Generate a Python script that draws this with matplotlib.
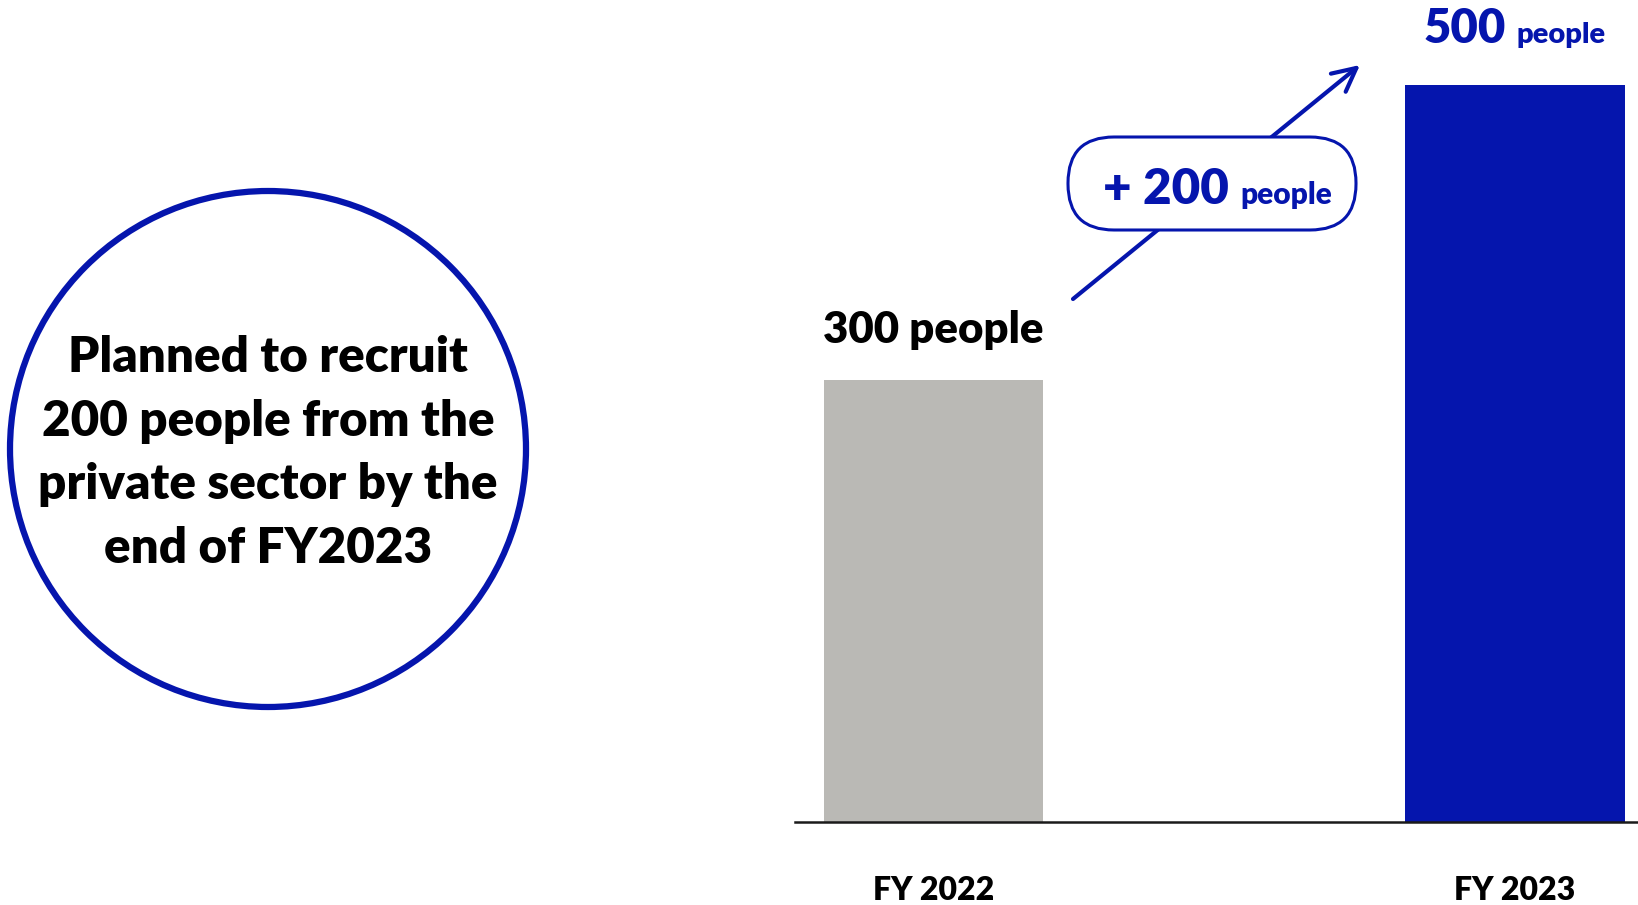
import numpy as np
import matplotlib.pyplot as plt
from matplotlib.patches import Circle, FancyBboxPatch

plt.rcParams['font.family'] = ['Lato', 'DejaVu Sans']
plt.rcParams['font.weight'] = 'bold'

# datos
years = ["FY 2022", "FY 2023"]
people = [300, 500]
unit = "people"
note = "Planned to recruit\n200 people from the\nprivate sector by the\nend of FY2023"

blue = "#0515AD"
gray = "#BAB9B5"

W, H = 1638, 905
fig = plt.figure(figsize=(W / 100, H / 100), dpi=100)

# ejes de las barras (base en y=822 px)
ax = fig.add_axes([795 / W, 1 - 822 / H, (W - 795) / W, 822 / H])
ax.set_facecolor("none")
x = np.arange(len(years))
ax.bar(x, people, width=0.377, color=[gray, blue], zorder=2)
ax.set_xlim(-0.238, 1.2115)
ax.set_ylim(0, 557.3)
for s in ["top", "right", "left"]:
    ax.spines[s].set_visible(False)
ax.spines["bottom"].set_linewidth(1.8)
ax.spines["bottom"].set_color("#1a1a1a")
ax.set_yticks([])
ax.set_xticks(x)
ax.set_xticklabels(years, fontsize=23, fontweight="heavy")
ax.tick_params(axis="x", length=0, pad=39)

# etiquetas de valor
ax.annotate(f"{people[0]} {unit}", xy=(x[0], people[0]), xytext=(0, 37),
            textcoords="offset pixels", ha="center", va="baseline",
            fontsize=31.5, fontweight="heavy", color="black")
ax.annotate(f"{people[1]}", xy=(x[1], people[1]), xytext=(-9, 42),
            textcoords="offset pixels", ha="right", va="baseline",
            fontsize=34, fontweight="heavy", color=blue)
ax.annotate(unit, xy=(x[1], people[1]), xytext=(2, 42),
            textcoords="offset pixels", ha="left", va="baseline",
            fontsize=21, fontweight="heavy", color=blue)

# capa superior en pixeles
ov = fig.add_axes([0, 0, 1, 1], zorder=3)
ov.set_xlim(0, W)
ov.set_ylim(H, 0)
ov.set_facecolor("none")
ov.axis("off")

ov.add_patch(Circle((268, 449), 258, fill=False, ec=blue, lw=4.5))
ov.text(268, 453, note, ha="center", va="center", multialignment="center",
        fontsize=35.5, fontweight="heavy", linespacing=1.5)

# flecha de incremento
ov.annotate("", xy=(1360, 65), xytext=(1073, 299),
            arrowprops=dict(arrowstyle="->", lw=3, color=blue,
                            mutation_scale=42, shrinkA=0, shrinkB=0,
                            capstyle="round"), zorder=1)
ov.add_patch(FancyBboxPatch((1068, 137), 288, 93,
                            boxstyle="round,pad=0,rounding_size=46",
                            fc="white", ec=blue, lw=2.2, zorder=2))
diff = people[1] - people[0]
ov.text(1229, 204, f"+ {diff}", ha="right", va="baseline",
        fontsize=35.5, fontweight="heavy", color=blue, zorder=3)
ov.text(1240, 204, unit, ha="left", va="baseline",
        fontsize=21.5, fontweight="heavy", color=blue, zorder=3)

fig.savefig("out.png", dpi=100)
